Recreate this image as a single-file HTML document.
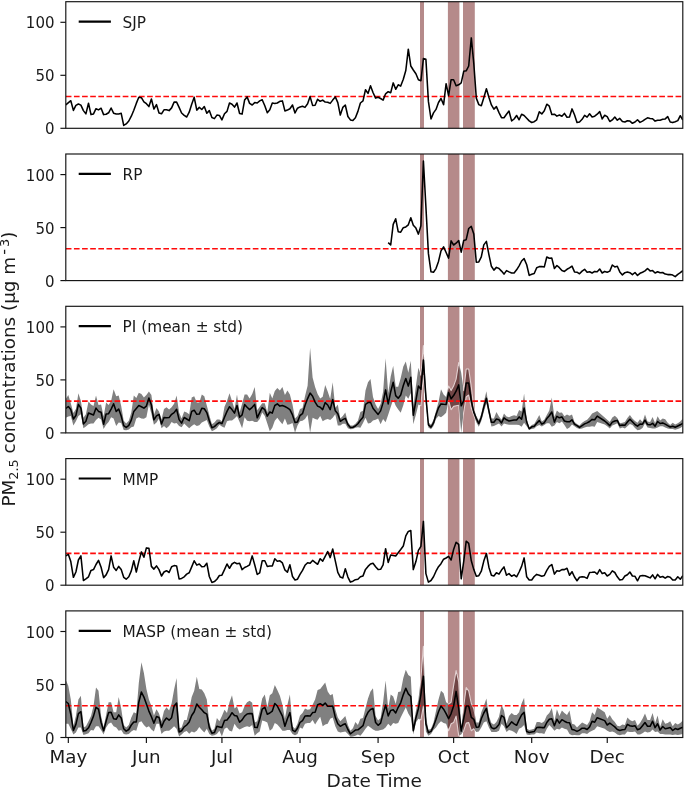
<!DOCTYPE html>
<html><head><meta charset="utf-8"><title>PM2.5 concentrations</title>
<style>
html,body{margin:0;padding:0;background:#fff;}
body{width:685px;height:788px;overflow:hidden;}
svg{display:block;}
text{font-family:"DejaVu Sans","Liberation Sans",sans-serif;fill:#1a1a1a;}
.yt{font-size:15px;text-anchor:end;}
.xt{font-size:18.3px;text-anchor:middle;}
.lg{font-size:15.35px;}
.al{font-size:18.5px;text-anchor:middle;}
</style></head><body>
<svg width="685" height="788" viewBox="0 0 685 788">
<rect width="685" height="788" fill="#fff"/>
<g id="p0">
<clipPath id="c0"><rect x="65.8" y="1.7" width="617.0" height="126.60000000000001"/></clipPath>
<clipPath id="bc0"><rect x="420.0" y="1.7" width="4.0" height="126.60000000000001"/><rect x="447.9" y="1.7" width="11.5" height="126.60000000000001"/><rect x="463.0" y="1.7" width="11.8" height="126.60000000000001"/></clipPath>
<g clip-path="url(#c0)">
<rect x="420.0" y="1.7" width="4.0" height="126.60000000000001" fill="rgb(94,1,1)" fill-opacity="0.46"/>
<rect x="447.9" y="1.7" width="11.5" height="126.60000000000001" fill="rgb(94,1,1)" fill-opacity="0.46"/>
<rect x="463.0" y="1.7" width="11.8" height="126.60000000000001" fill="rgb(94,1,1)" fill-opacity="0.46"/>
<line x1="65.8" x2="682.8" y1="96.50" y2="96.50" stroke="#ff0a0a" stroke-width="1.6" stroke-dasharray="5.67 2.46"/>
<polyline points="65.8,104.9 70.8,100.7 73.4,110.4 75.9,105.4 78.4,104.0 80.9,105.1 83.4,110.6 85.9,113.9 88.5,103.2 91.0,114.6 93.5,113.9 96.0,108.7 98.5,109.9 101.1,108.2 103.6,114.6 106.1,114.2 108.6,112.8 111.1,108.0 113.6,113.2 116.2,113.9 118.7,113.9 121.2,113.3 123.7,125.4 126.2,123.9 128.8,121.0 131.3,116.2 133.8,110.3 136.3,103.4 138.8,97.3 141.4,97.7 143.9,101.8 146.4,103.7 148.9,106.6 151.4,99.0 153.9,109.0 156.5,104.6 159.0,113.0 161.5,113.8 164.0,109.8 166.5,109.8 169.1,110.6 171.6,107.9 174.1,102.1 176.6,102.1 179.1,107.4 181.6,113.0 184.2,115.4 186.7,117.0 189.2,112.2 191.7,104.2 194.2,97.3 196.8,110.1 199.3,107.4 201.8,109.5 204.3,106.6 206.8,113.3 209.3,110.6 211.9,117.5 214.4,118.6 216.9,115.1 219.4,115.4 221.9,119.9 224.5,113.8 227.0,111.4 229.5,103.0 232.0,104.2 234.5,107.1 237.0,103.0 239.6,113.5 242.1,114.1 244.6,100.1 247.1,96.9 249.6,103.4 252.2,105.0 254.7,102.6 257.2,103.0 259.7,100.9 262.2,99.7 264.8,105.8 267.3,112.7 269.8,109.8 272.3,103.0 274.8,103.4 277.3,103.0 279.9,101.3 282.4,100.9 284.9,110.9 287.4,110.1 289.9,108.7 292.5,105.0 295.0,113.0 297.5,108.2 300.0,106.9 302.5,106.2 305.0,107.4 307.6,103.7 310.1,96.6 312.6,105.4 315.1,105.3 317.6,99.3 320.2,101.3 322.7,100.1 325.2,102.1 327.7,102.2 330.2,103.4 332.7,100.1 335.3,96.9 337.8,102.6 340.3,115.1 342.8,107.4 345.3,105.0 347.9,116.5 350.4,119.9 352.9,120.5 355.4,117.8 357.9,111.4 360.4,103.0 363.0,100.9 365.5,89.7 368.0,93.4 370.5,85.8 373.0,92.5 375.6,98.1 378.1,97.3 380.6,98.5 383.1,100.1 385.6,93.8 388.2,91.7 390.7,92.8 393.2,82.9 395.7,89.3 398.2,84.8 400.7,86.1 403.3,79.2 405.8,70.5 408.3,49.2 410.8,66.0 413.3,70.0 415.9,73.7 418.4,79.7 420.9,80.8 423.4,58.5 425.9,59.3 428.4,101.4 431.0,119.0 433.5,112.9 436.0,109.4 438.5,102.5 441.0,98.5 443.6,104.6 446.1,83.7 448.6,95.7 451.1,79.7 453.6,79.7 456.1,85.8 458.7,84.8 461.2,82.9 463.7,71.3 466.2,70.8 468.7,66.0 471.3,37.9 473.8,63.6 476.3,98.1 478.8,104.6 481.3,105.7 483.8,97.7 486.4,88.8 488.9,97.3 491.4,104.9 493.9,109.1 496.4,106.6 499.0,112.6 501.5,117.7 504.0,117.7 506.5,114.2 509.0,111.0 511.6,120.9 514.1,119.0 516.6,115.5 519.1,119.8 521.6,114.2 524.1,115.5 526.7,118.2 529.2,120.9 531.7,122.5 534.2,121.7 536.7,119.8 539.3,111.8 541.8,113.9 544.3,110.7 546.8,104.2 549.3,106.2 551.8,114.5 554.4,114.2 556.9,116.1 559.4,115.0 561.9,116.2 564.4,113.4 567.0,117.3 569.5,117.1 572.0,108.9 574.5,114.7 577.0,122.4 579.5,122.0 582.1,119.3 584.6,115.3 587.1,117.1 589.6,113.8 592.1,116.9 594.7,116.2 597.2,114.2 599.7,111.6 602.2,118.9 604.7,115.3 607.2,116.6 609.8,121.5 612.3,119.9 614.8,117.1 617.3,120.2 619.8,118.4 622.4,121.5 624.9,122.0 627.4,120.8 629.9,121.1 632.4,123.3 635.0,122.0 637.5,119.7 640.0,122.4 642.5,121.1 645.0,119.3 647.5,117.8 650.1,118.4 652.6,118.8 655.1,121.1 657.6,120.2 660.1,120.2 662.7,119.3 665.2,118.9 667.7,116.6 670.2,122.0 672.7,122.6 675.2,121.7 677.8,120.6 680.3,115.7 682.8,120.2" fill="none" stroke="#000" stroke-width="1.55" stroke-linejoin="round" stroke-linecap="butt"/>
</g>
<rect x="65.8" y="1.7" width="617.0" height="126.60000000000001" fill="none" stroke="#111" stroke-width="1.15"/>
<line x1="60.4" x2="65.8" y1="128.30" y2="128.30" stroke="#111" stroke-width="1.15"/>
<text class="yt" x="54.5" y="134.40">0</text>
<line x1="60.4" x2="65.8" y1="75.30" y2="75.30" stroke="#111" stroke-width="1.15"/>
<text class="yt" x="54.5" y="81.40">50</text>
<line x1="60.4" x2="65.8" y1="22.30" y2="22.30" stroke="#111" stroke-width="1.15"/>
<text class="yt" x="54.5" y="28.40">100</text>
<line x1="78.7" x2="110.9" y1="21.60" y2="21.60" stroke="#000" stroke-width="2.2"/>
<text class="lg" x="122.6" y="27.80">SJP</text>
</g>
<g id="p1">
<clipPath id="c1"><rect x="65.8" y="154.0" width="617.0" height="126.60000000000002"/></clipPath>
<clipPath id="bc1"><rect x="420.0" y="154.0" width="4.0" height="126.60000000000002"/><rect x="447.9" y="154.0" width="11.5" height="126.60000000000002"/><rect x="463.0" y="154.0" width="11.8" height="126.60000000000002"/></clipPath>
<g clip-path="url(#c1)">
<rect x="420.0" y="154.0" width="4.0" height="126.60000000000002" fill="rgb(94,1,1)" fill-opacity="0.46"/>
<rect x="447.9" y="154.0" width="11.5" height="126.60000000000002" fill="rgb(94,1,1)" fill-opacity="0.46"/>
<rect x="463.0" y="154.0" width="11.8" height="126.60000000000002" fill="rgb(94,1,1)" fill-opacity="0.46"/>
<line x1="65.8" x2="682.8" y1="248.80" y2="248.80" stroke="#ff0a0a" stroke-width="1.6" stroke-dasharray="5.67 2.46"/>
<polyline points="388.2,242.6 390.7,245.0 393.2,224.4 395.7,218.8 398.2,231.7 400.7,232.2 403.3,227.7 405.8,226.9 408.3,224.8 410.8,217.7 413.3,225.2 415.9,228.1 418.4,234.1 420.9,225.7 423.4,161.0 425.9,206.8 428.4,253.4 431.0,271.8 433.5,272.3 436.0,268.6 438.5,261.4 441.0,250.9 443.6,246.9 446.1,252.5 448.6,258.2 451.1,240.8 453.6,245.0 456.1,243.2 458.7,240.5 461.2,252.2 463.7,240.5 466.2,239.7 468.7,228.5 471.3,226.4 473.8,234.1 476.3,262.2 478.8,261.9 481.3,256.8 483.8,244.9 486.4,241.4 488.9,254.6 491.4,266.3 493.9,270.1 496.4,267.4 499.0,268.5 501.5,271.1 504.0,274.1 506.5,270.6 509.0,271.9 511.6,273.0 514.1,273.0 516.6,269.8 519.1,265.8 521.6,261.0 524.1,258.6 526.7,264.7 529.2,275.4 531.7,274.3 534.2,273.5 536.7,267.7 539.3,266.6 541.8,266.6 544.3,266.9 546.8,257.0 549.3,258.2 551.8,258.1 554.4,268.5 556.9,265.5 559.4,267.7 561.9,270.6 564.4,271.4 567.0,269.3 569.5,267.9 572.0,266.1 574.5,271.9 577.0,272.2 579.5,273.8 582.1,271.1 584.6,269.3 587.1,272.2 589.6,271.7 592.1,273.0 594.7,271.4 597.2,271.7 599.7,269.0 602.2,273.0 604.7,271.4 607.2,272.2 609.8,271.1 612.3,265.0 614.8,266.9 617.3,266.3 619.8,271.9 622.4,274.9 624.9,272.7 627.4,272.1 629.9,272.7 632.4,274.6 635.0,272.5 637.5,275.4 640.0,273.3 642.5,272.2 645.0,270.9 647.5,268.5 650.1,270.9 652.6,270.6 655.1,273.0 657.6,271.7 660.1,272.7 662.7,272.5 665.2,274.1 667.7,274.6 670.2,274.6 672.7,275.1 675.2,276.6 677.8,274.3 680.3,272.7 682.8,270.6" fill="none" stroke="#000" stroke-width="1.55" stroke-linejoin="round" stroke-linecap="butt"/>
</g>
<rect x="65.8" y="154.0" width="617.0" height="126.60000000000002" fill="none" stroke="#111" stroke-width="1.15"/>
<line x1="60.4" x2="65.8" y1="280.60" y2="280.60" stroke="#111" stroke-width="1.15"/>
<text class="yt" x="54.5" y="286.70">0</text>
<line x1="60.4" x2="65.8" y1="227.60" y2="227.60" stroke="#111" stroke-width="1.15"/>
<text class="yt" x="54.5" y="233.70">50</text>
<line x1="60.4" x2="65.8" y1="174.60" y2="174.60" stroke="#111" stroke-width="1.15"/>
<text class="yt" x="54.5" y="180.70">100</text>
<line x1="78.7" x2="110.9" y1="173.90" y2="173.90" stroke="#000" stroke-width="2.2"/>
<text class="lg" x="122.6" y="180.10">RP</text>
</g>
<g id="p2">
<clipPath id="c2"><rect x="65.8" y="306.3" width="617.0" height="126.60000000000002"/></clipPath>
<clipPath id="bc2"><rect x="420.0" y="306.3" width="4.0" height="126.60000000000002"/><rect x="447.9" y="306.3" width="11.5" height="126.60000000000002"/><rect x="463.0" y="306.3" width="11.8" height="126.60000000000002"/></clipPath>
<g clip-path="url(#c2)">
<polygon points="65.8,399.1 68.3,395.0 70.8,403.2 73.4,413.1 75.9,409.1 78.4,393.3 80.9,400.9 83.4,417.8 85.9,414.3 88.5,401.5 91.0,404.4 93.5,406.1 96.0,395.6 98.5,405.0 101.1,404.4 103.6,416.6 106.1,402.6 108.6,405.0 111.1,400.9 113.6,389.2 116.2,396.2 118.7,395.6 121.2,406.1 123.7,420.7 126.2,423.6 128.8,420.7 131.3,412.6 133.8,395.6 136.3,398.0 138.8,392.7 141.4,393.9 143.9,397.4 146.4,395.0 148.9,391.5 151.4,395.0 153.9,414.9 156.5,407.9 159.0,411.4 161.5,419.6 164.0,409.1 166.5,407.3 169.1,409.6 171.6,407.3 174.1,403.8 176.6,395.6 179.1,412.6 181.6,418.4 184.2,411.4 186.7,412.6 189.2,414.3 191.7,397.4 194.2,396.2 196.8,402.6 199.3,402.6 201.8,394.5 204.3,396.2 206.8,405.5 209.3,414.9 211.9,424.2 214.4,422.5 216.9,419.6 219.4,419.6 221.9,421.3 224.5,406.7 227.0,400.9 229.5,393.3 232.0,400.9 234.5,409.1 237.0,394.5 239.6,412.6 242.1,403.8 244.6,394.5 247.1,394.5 249.6,398.5 252.2,393.9 254.7,386.9 257.2,410.2 259.7,406.7 262.2,403.2 264.8,403.2 267.3,412.6 269.8,392.7 272.3,398.5 274.8,390.9 277.3,388.0 279.9,390.4 282.4,386.9 284.9,395.0 287.4,390.6 289.9,394.5 292.5,404.4 295.0,418.4 297.5,416.1 300.0,409.1 302.5,407.9 305.0,396.2 307.6,385.7 310.1,347.8 312.6,377.5 315.1,386.9 317.6,393.9 320.2,398.6 322.7,396.8 325.2,385.1 327.7,391.5 330.2,399.1 332.7,382.2 335.3,407.9 337.8,404.4 340.3,418.4 342.8,416.1 345.3,412.6 347.9,421.9 350.4,425.4 352.9,425.4 355.4,423.7 357.9,420.7 360.4,412.0 363.0,410.8 365.5,390.4 368.0,382.3 370.5,379.1 373.0,396.9 375.6,404.5 378.1,409.0 380.6,403.9 383.1,391.8 385.6,358.2 388.2,393.1 390.7,376.6 393.2,365.8 395.7,386.8 398.2,386.8 400.7,377.9 403.3,366.5 405.8,361.4 408.3,372.8 410.8,360.7 413.3,407.1 415.9,386.1 418.4,367.7 420.9,375.3 423.4,345.5 425.9,389.3 428.4,422.3 431.0,424.8 433.5,419.8 436.0,410.9 438.5,402.0 441.0,389.3 443.6,394.4 446.1,396.9 448.6,386.1 451.1,390.6 453.6,386.1 456.1,379.1 458.7,362.6 461.2,372.8 463.7,390.6 466.2,369.0 468.7,369.0 471.3,386.8 473.8,408.3 476.3,415.9 478.8,420.4 481.3,414.0 483.8,402.0 486.4,391.2 488.9,407.1 491.4,418.5 493.9,418.5 496.4,412.1 499.0,416.6 501.5,419.8 504.0,413.4 506.5,416.6 509.0,417.2 511.6,415.9 514.1,415.3 516.6,415.9 519.1,409.9 521.6,411.6 524.1,393.5 526.7,419.2 529.2,427.4 531.7,425.1 534.2,423.9 536.7,419.8 539.3,415.1 541.8,421.5 544.3,419.8 546.8,415.1 549.3,410.5 551.8,397.6 554.4,416.9 556.9,410.5 559.4,412.8 561.9,412.4 564.4,416.3 567.0,414.5 569.5,415.7 572.0,414.5 574.5,422.1 577.0,423.9 579.5,425.6 582.1,422.7 584.6,421.0 587.1,419.8 589.6,416.9 592.1,413.4 594.7,412.2 597.2,411.0 604.7,417.5 607.2,419.8 609.8,422.1 612.3,417.5 614.8,415.7 617.3,418.0 619.8,423.3 622.4,422.7 624.9,422.1 627.4,418.0 629.9,415.1 632.4,418.6 635.0,421.0 637.5,422.7 640.0,419.2 642.5,422.1 645.0,414.5 647.5,421.5 650.1,422.1 652.6,416.9 655.1,423.3 657.6,416.3 660.1,420.4 662.7,418.6 665.2,419.2 667.7,422.7 670.2,425.1 672.7,422.7 675.2,424.5 677.8,423.3 680.3,421.5 682.8,418.6 682.8,426.2 680.3,428.0 677.8,429.1 675.2,429.7 672.7,429.1 670.2,429.1 667.7,428.6 665.2,427.4 662.7,426.2 660.1,426.2 657.6,427.4 655.1,428.6 652.6,428.6 650.1,428.0 647.5,427.4 645.0,423.3 642.5,428.0 640.0,429.7 637.5,430.3 635.0,428.0 632.4,425.1 629.9,423.9 627.4,426.2 624.9,428.6 622.4,427.4 619.8,428.6 617.3,423.3 614.8,424.5 612.3,425.6 609.8,428.6 607.2,426.2 604.7,424.5 597.2,422.1 594.7,426.8 592.1,426.2 589.6,426.8 587.1,426.8 584.6,427.4 582.1,428.6 579.5,429.1 577.0,428.0 574.5,426.2 572.0,424.5 569.5,427.4 567.0,429.1 564.4,425.1 561.9,421.5 559.4,423.3 556.9,422.1 554.4,425.6 551.8,426.8 549.3,423.3 546.8,423.3 544.3,425.1 541.8,426.5 539.3,425.1 536.7,426.2 534.2,428.6 531.7,429.1 529.2,429.7 526.7,426.2 524.1,422.7 521.6,426.8 519.1,425.1 516.6,424.8 514.1,424.8 511.6,424.8 509.0,424.8 506.5,424.2 504.0,423.6 501.5,426.4 499.0,423.6 496.4,424.8 493.9,426.1 491.4,426.4 488.9,414.7 486.4,403.3 483.8,412.1 481.3,421.0 478.8,426.7 476.3,422.3 473.8,415.3 471.3,408.3 468.7,395.0 466.2,396.9 463.7,412.1 461.2,432.8 458.7,405.2 456.1,405.8 453.6,406.4 451.1,409.6 448.6,400.7 446.1,412.8 443.6,415.3 441.0,417.2 438.5,415.9 436.0,419.1 433.5,426.1 431.0,429.3 428.4,427.4 425.9,404.5 423.4,375.3 420.9,405.8 418.4,404.5 415.9,414.7 413.3,424.2 410.8,393.1 408.3,398.8 405.8,395.6 403.3,405.2 400.7,412.8 398.2,409.6 395.7,405.8 393.2,399.5 390.7,407.1 388.2,414.7 385.6,422.3 383.1,419.1 380.6,424.2 378.1,418.5 375.6,419.8 373.0,420.4 370.5,422.9 368.0,423.6 365.5,417.8 363.0,423.1 360.4,427.8 357.9,427.2 355.4,427.8 352.9,428.9 350.4,429.2 347.9,428.3 345.3,423.7 342.8,423.7 340.3,425.4 337.8,425.4 335.3,414.3 332.7,417.8 330.2,419.9 327.7,419.0 325.2,419.8 322.7,421.3 320.2,416.1 317.6,419.8 315.1,419.0 312.6,417.8 310.1,432.7 307.6,414.9 305.0,419.0 302.5,420.7 300.0,421.3 297.5,425.4 295.0,432.7 292.5,423.1 289.9,424.2 287.4,424.8 284.9,418.4 282.4,424.2 279.9,421.3 277.3,417.8 274.8,420.7 272.3,427.7 269.8,431.2 267.3,423.6 264.8,416.1 262.2,412.6 259.7,419.0 257.2,421.9 254.7,421.9 252.2,420.7 249.6,421.3 247.1,420.7 244.6,417.2 242.1,428.3 239.6,421.9 237.0,416.1 234.5,418.4 232.0,420.5 229.5,420.5 227.0,421.3 224.5,427.7 221.9,426.6 219.4,424.8 216.9,428.3 214.4,430.1 211.9,431.2 209.3,426.6 206.8,420.1 204.3,421.3 201.8,422.5 199.3,425.2 196.8,426.0 194.2,424.2 191.7,426.0 189.2,428.3 186.7,426.0 184.2,423.6 181.6,427.2 179.1,426.0 176.6,423.1 174.1,423.6 171.6,421.9 169.1,426.0 166.5,428.3 164.0,426.0 161.5,428.3 159.0,418.4 156.5,422.5 153.9,424.8 151.4,413.7 148.9,404.4 146.4,417.2 143.9,418.7 141.4,418.4 138.8,417.2 136.3,418.4 133.8,426.6 131.3,427.2 128.8,429.5 126.2,430.3 123.7,430.1 121.2,423.1 118.7,422.5 116.2,426.0 113.6,418.4 111.1,417.2 108.6,421.9 106.1,424.8 103.6,428.9 101.1,419.6 98.5,417.8 96.0,420.1 93.5,423.6 91.0,423.6 88.5,424.2 85.9,426.6 83.4,428.3 80.9,414.3 78.4,416.1 75.9,421.3 73.4,425.4 70.8,416.1 68.3,416.6 65.8,417.8" fill="#808080"/>
<rect x="420.0" y="306.3" width="4.0" height="126.60000000000002" fill="rgb(94,1,1)" fill-opacity="0.46"/>
<rect x="447.9" y="306.3" width="11.5" height="126.60000000000002" fill="rgb(94,1,1)" fill-opacity="0.46"/>
<rect x="463.0" y="306.3" width="11.8" height="126.60000000000002" fill="rgb(94,1,1)" fill-opacity="0.46"/>
<g clip-path="url(#bc2)"><polygon points="65.8,399.1 68.3,395.0 70.8,403.2 73.4,413.1 75.9,409.1 78.4,393.3 80.9,400.9 83.4,417.8 85.9,414.3 88.5,401.5 91.0,404.4 93.5,406.1 96.0,395.6 98.5,405.0 101.1,404.4 103.6,416.6 106.1,402.6 108.6,405.0 111.1,400.9 113.6,389.2 116.2,396.2 118.7,395.6 121.2,406.1 123.7,420.7 126.2,423.6 128.8,420.7 131.3,412.6 133.8,395.6 136.3,398.0 138.8,392.7 141.4,393.9 143.9,397.4 146.4,395.0 148.9,391.5 151.4,395.0 153.9,414.9 156.5,407.9 159.0,411.4 161.5,419.6 164.0,409.1 166.5,407.3 169.1,409.6 171.6,407.3 174.1,403.8 176.6,395.6 179.1,412.6 181.6,418.4 184.2,411.4 186.7,412.6 189.2,414.3 191.7,397.4 194.2,396.2 196.8,402.6 199.3,402.6 201.8,394.5 204.3,396.2 206.8,405.5 209.3,414.9 211.9,424.2 214.4,422.5 216.9,419.6 219.4,419.6 221.9,421.3 224.5,406.7 227.0,400.9 229.5,393.3 232.0,400.9 234.5,409.1 237.0,394.5 239.6,412.6 242.1,403.8 244.6,394.5 247.1,394.5 249.6,398.5 252.2,393.9 254.7,386.9 257.2,410.2 259.7,406.7 262.2,403.2 264.8,403.2 267.3,412.6 269.8,392.7 272.3,398.5 274.8,390.9 277.3,388.0 279.9,390.4 282.4,386.9 284.9,395.0 287.4,390.6 289.9,394.5 292.5,404.4 295.0,418.4 297.5,416.1 300.0,409.1 302.5,407.9 305.0,396.2 307.6,385.7 310.1,347.8 312.6,377.5 315.1,386.9 317.6,393.9 320.2,398.6 322.7,396.8 325.2,385.1 327.7,391.5 330.2,399.1 332.7,382.2 335.3,407.9 337.8,404.4 340.3,418.4 342.8,416.1 345.3,412.6 347.9,421.9 350.4,425.4 352.9,425.4 355.4,423.7 357.9,420.7 360.4,412.0 363.0,410.8 365.5,390.4 368.0,382.3 370.5,379.1 373.0,396.9 375.6,404.5 378.1,409.0 380.6,403.9 383.1,391.8 385.6,358.2 388.2,393.1 390.7,376.6 393.2,365.8 395.7,386.8 398.2,386.8 400.7,377.9 403.3,366.5 405.8,361.4 408.3,372.8 410.8,360.7 413.3,407.1 415.9,386.1 418.4,367.7 420.9,375.3 423.4,345.5 425.9,389.3 428.4,422.3 431.0,424.8 433.5,419.8 436.0,410.9 438.5,402.0 441.0,389.3 443.6,394.4 446.1,396.9 448.6,386.1 451.1,390.6 453.6,386.1 456.1,379.1 458.7,362.6 461.2,372.8 463.7,390.6 466.2,369.0 468.7,369.0 471.3,386.8 473.8,408.3 476.3,415.9 478.8,420.4 481.3,414.0 483.8,402.0 486.4,391.2 488.9,407.1 491.4,418.5 493.9,418.5 496.4,412.1 499.0,416.6 501.5,419.8 504.0,413.4 506.5,416.6 509.0,417.2 511.6,415.9 514.1,415.3 516.6,415.9 519.1,409.9 521.6,411.6 524.1,393.5 526.7,419.2 529.2,427.4 531.7,425.1 534.2,423.9 536.7,419.8 539.3,415.1 541.8,421.5 544.3,419.8 546.8,415.1 549.3,410.5 551.8,397.6 554.4,416.9 556.9,410.5 559.4,412.8 561.9,412.4 564.4,416.3 567.0,414.5 569.5,415.7 572.0,414.5 574.5,422.1 577.0,423.9 579.5,425.6 582.1,422.7 584.6,421.0 587.1,419.8 589.6,416.9 592.1,413.4 594.7,412.2 597.2,411.0 604.7,417.5 607.2,419.8 609.8,422.1 612.3,417.5 614.8,415.7 617.3,418.0 619.8,423.3 622.4,422.7 624.9,422.1 627.4,418.0 629.9,415.1 632.4,418.6 635.0,421.0 637.5,422.7 640.0,419.2 642.5,422.1 645.0,414.5 647.5,421.5 650.1,422.1 652.6,416.9 655.1,423.3 657.6,416.3 660.1,420.4 662.7,418.6 665.2,419.2 667.7,422.7 670.2,425.1 672.7,422.7 675.2,424.5 677.8,423.3 680.3,421.5 682.8,418.6 682.8,426.2 680.3,428.0 677.8,429.1 675.2,429.7 672.7,429.1 670.2,429.1 667.7,428.6 665.2,427.4 662.7,426.2 660.1,426.2 657.6,427.4 655.1,428.6 652.6,428.6 650.1,428.0 647.5,427.4 645.0,423.3 642.5,428.0 640.0,429.7 637.5,430.3 635.0,428.0 632.4,425.1 629.9,423.9 627.4,426.2 624.9,428.6 622.4,427.4 619.8,428.6 617.3,423.3 614.8,424.5 612.3,425.6 609.8,428.6 607.2,426.2 604.7,424.5 597.2,422.1 594.7,426.8 592.1,426.2 589.6,426.8 587.1,426.8 584.6,427.4 582.1,428.6 579.5,429.1 577.0,428.0 574.5,426.2 572.0,424.5 569.5,427.4 567.0,429.1 564.4,425.1 561.9,421.5 559.4,423.3 556.9,422.1 554.4,425.6 551.8,426.8 549.3,423.3 546.8,423.3 544.3,425.1 541.8,426.5 539.3,425.1 536.7,426.2 534.2,428.6 531.7,429.1 529.2,429.7 526.7,426.2 524.1,422.7 521.6,426.8 519.1,425.1 516.6,424.8 514.1,424.8 511.6,424.8 509.0,424.8 506.5,424.2 504.0,423.6 501.5,426.4 499.0,423.6 496.4,424.8 493.9,426.1 491.4,426.4 488.9,414.7 486.4,403.3 483.8,412.1 481.3,421.0 478.8,426.7 476.3,422.3 473.8,415.3 471.3,408.3 468.7,395.0 466.2,396.9 463.7,412.1 461.2,432.8 458.7,405.2 456.1,405.8 453.6,406.4 451.1,409.6 448.6,400.7 446.1,412.8 443.6,415.3 441.0,417.2 438.5,415.9 436.0,419.1 433.5,426.1 431.0,429.3 428.4,427.4 425.9,404.5 423.4,375.3 420.9,405.8 418.4,404.5 415.9,414.7 413.3,424.2 410.8,393.1 408.3,398.8 405.8,395.6 403.3,405.2 400.7,412.8 398.2,409.6 395.7,405.8 393.2,399.5 390.7,407.1 388.2,414.7 385.6,422.3 383.1,419.1 380.6,424.2 378.1,418.5 375.6,419.8 373.0,420.4 370.5,422.9 368.0,423.6 365.5,417.8 363.0,423.1 360.4,427.8 357.9,427.2 355.4,427.8 352.9,428.9 350.4,429.2 347.9,428.3 345.3,423.7 342.8,423.7 340.3,425.4 337.8,425.4 335.3,414.3 332.7,417.8 330.2,419.9 327.7,419.0 325.2,419.8 322.7,421.3 320.2,416.1 317.6,419.8 315.1,419.0 312.6,417.8 310.1,432.7 307.6,414.9 305.0,419.0 302.5,420.7 300.0,421.3 297.5,425.4 295.0,432.7 292.5,423.1 289.9,424.2 287.4,424.8 284.9,418.4 282.4,424.2 279.9,421.3 277.3,417.8 274.8,420.7 272.3,427.7 269.8,431.2 267.3,423.6 264.8,416.1 262.2,412.6 259.7,419.0 257.2,421.9 254.7,421.9 252.2,420.7 249.6,421.3 247.1,420.7 244.6,417.2 242.1,428.3 239.6,421.9 237.0,416.1 234.5,418.4 232.0,420.5 229.5,420.5 227.0,421.3 224.5,427.7 221.9,426.6 219.4,424.8 216.9,428.3 214.4,430.1 211.9,431.2 209.3,426.6 206.8,420.1 204.3,421.3 201.8,422.5 199.3,425.2 196.8,426.0 194.2,424.2 191.7,426.0 189.2,428.3 186.7,426.0 184.2,423.6 181.6,427.2 179.1,426.0 176.6,423.1 174.1,423.6 171.6,421.9 169.1,426.0 166.5,428.3 164.0,426.0 161.5,428.3 159.0,418.4 156.5,422.5 153.9,424.8 151.4,413.7 148.9,404.4 146.4,417.2 143.9,418.7 141.4,418.4 138.8,417.2 136.3,418.4 133.8,426.6 131.3,427.2 128.8,429.5 126.2,430.3 123.7,430.1 121.2,423.1 118.7,422.5 116.2,426.0 113.6,418.4 111.1,417.2 108.6,421.9 106.1,424.8 103.6,428.9 101.1,419.6 98.5,417.8 96.0,420.1 93.5,423.6 91.0,423.6 88.5,424.2 85.9,426.6 83.4,428.3 80.9,414.3 78.4,416.1 75.9,421.3 73.4,425.4 70.8,416.1 68.3,416.6 65.8,417.8" fill="none" stroke="#eadcdc" stroke-width="1.1" stroke-opacity="0.9" stroke-linejoin="round"/></g>
<line x1="65.8" x2="682.8" y1="401.10" y2="401.10" stroke="#ff0a0a" stroke-width="1.6" stroke-dasharray="5.67 2.46"/>
<polyline points="65.8,408.5 68.3,406.5 70.8,409.6 73.4,419.0 75.9,415.5 78.4,404.4 80.9,408.1 83.4,424.0 85.9,421.3 88.5,413.1 91.0,414.0 93.5,414.9 96.0,408.1 98.5,411.4 101.1,412.3 103.6,424.2 106.1,414.0 108.6,413.7 111.1,409.1 113.6,403.8 116.2,411.4 118.7,409.1 121.2,416.1 123.7,425.6 126.2,427.5 128.8,425.4 131.3,420.1 133.8,411.4 136.3,408.5 138.8,405.5 141.4,406.7 143.9,408.1 146.4,406.1 148.9,398.0 151.4,405.0 153.9,419.8 156.5,415.8 159.0,414.3 161.5,424.0 164.0,417.6 166.5,417.8 169.1,417.6 171.6,414.3 174.1,412.6 176.6,409.3 179.1,419.6 181.6,423.1 184.2,417.5 186.7,419.0 189.2,420.7 191.7,411.4 194.2,410.2 196.8,414.3 199.3,414.1 201.8,408.2 204.3,408.8 206.8,412.6 209.3,420.7 211.9,427.7 214.4,426.6 216.9,424.2 219.4,422.5 221.9,423.6 224.5,417.2 227.0,411.4 229.5,406.7 232.0,409.6 234.5,413.1 237.0,405.5 239.6,417.2 242.1,414.9 244.6,404.6 247.1,407.3 249.6,409.6 252.2,407.3 254.7,404.4 257.2,417.8 259.7,412.6 262.2,407.6 264.8,409.6 267.3,416.1 269.8,412.0 272.3,413.1 274.8,405.5 277.3,403.8 279.9,406.1 282.4,405.5 284.9,406.5 287.4,407.9 289.9,409.6 292.5,414.9 295.0,422.5 297.5,421.9 300.0,415.5 302.5,413.7 305.0,405.6 307.6,398.6 310.1,393.1 312.6,396.2 315.1,402.1 317.6,406.1 320.2,407.3 322.7,409.6 325.2,402.6 327.7,405.0 330.2,409.6 332.7,399.5 335.3,410.8 337.8,413.7 340.3,421.3 342.8,419.6 345.3,418.4 347.9,424.5 350.4,427.4 352.9,427.2 355.4,426.0 357.9,423.7 360.4,420.2 363.0,417.2 365.5,404.4 368.0,402.6 370.5,402.2 373.0,408.3 375.6,411.5 378.1,414.4 380.6,410.9 383.1,402.6 385.6,389.9 388.2,403.9 390.7,391.8 393.2,382.3 395.7,395.6 398.2,398.2 400.7,395.0 403.3,385.5 405.8,378.5 408.3,386.1 410.8,377.2 413.3,415.3 415.9,400.7 418.4,386.1 420.9,389.3 423.4,360.1 425.9,396.9 428.4,424.8 431.0,427.1 433.5,422.9 436.0,414.7 438.5,407.7 441.0,403.9 443.6,404.3 446.1,404.5 448.6,392.5 451.1,398.8 453.6,395.6 456.1,391.2 458.7,384.9 461.2,405.8 463.7,400.7 466.2,383.0 468.7,383.0 471.3,400.7 473.8,412.1 476.3,418.5 478.8,423.6 481.3,417.2 483.8,407.1 486.4,398.2 488.9,410.9 491.4,422.3 493.9,422.3 496.4,419.1 499.0,419.8 501.5,422.9 504.0,417.9 506.5,419.8 509.0,421.0 511.6,420.4 514.1,420.0 516.6,420.0 519.1,416.9 521.6,419.2 524.1,408.1 526.7,422.1 529.2,428.8 531.7,426.8 534.2,426.2 536.7,423.3 539.3,420.6 541.8,424.1 544.3,422.7 546.8,418.6 549.3,415.7 551.8,412.0 554.4,422.1 556.9,416.3 559.4,417.8 561.9,416.9 564.4,421.0 567.0,421.8 569.5,421.8 572.0,419.8 574.5,424.1 577.0,425.6 579.5,427.4 582.1,425.6 584.6,423.9 587.1,422.9 589.6,421.5 592.1,419.4 594.7,419.8 597.2,416.1 604.7,421.0 607.2,423.1 609.8,425.6 612.3,422.1 614.8,421.0 617.3,420.4 619.8,425.6 622.4,425.1 624.9,425.3 627.4,422.1 629.9,419.2 632.4,421.8 635.0,424.5 637.5,426.2 640.0,424.1 642.5,424.2 645.0,420.1 647.5,424.5 650.1,424.8 652.6,423.3 655.1,426.2 657.6,421.5 660.1,423.5 662.7,422.9 665.2,424.1 667.7,425.6 670.2,427.0 672.7,426.2 675.2,427.2 677.8,426.0 680.3,424.8 682.8,423.3" fill="none" stroke="#000" stroke-width="1.55" stroke-linejoin="round" stroke-linecap="butt"/>
</g>
<rect x="65.8" y="306.3" width="617.0" height="126.60000000000002" fill="none" stroke="#111" stroke-width="1.15"/>
<line x1="60.4" x2="65.8" y1="432.90" y2="432.90" stroke="#111" stroke-width="1.15"/>
<text class="yt" x="54.5" y="439.00">0</text>
<line x1="60.4" x2="65.8" y1="379.90" y2="379.90" stroke="#111" stroke-width="1.15"/>
<text class="yt" x="54.5" y="386.00">50</text>
<line x1="60.4" x2="65.8" y1="326.90" y2="326.90" stroke="#111" stroke-width="1.15"/>
<text class="yt" x="54.5" y="333.00">100</text>
<line x1="78.7" x2="110.9" y1="326.20" y2="326.20" stroke="#000" stroke-width="2.2"/>
<text class="lg" x="122.6" y="332.40">PI (mean ± std)</text>
</g>
<g id="p3">
<clipPath id="c3"><rect x="65.8" y="458.6" width="617.0" height="126.60000000000002"/></clipPath>
<clipPath id="bc3"><rect x="420.0" y="458.6" width="4.0" height="126.60000000000002"/><rect x="447.9" y="458.6" width="11.5" height="126.60000000000002"/><rect x="463.0" y="458.6" width="11.8" height="126.60000000000002"/></clipPath>
<g clip-path="url(#c3)">
<rect x="420.0" y="458.6" width="4.0" height="126.60000000000002" fill="rgb(94,1,1)" fill-opacity="0.46"/>
<rect x="447.9" y="458.6" width="11.5" height="126.60000000000002" fill="rgb(94,1,1)" fill-opacity="0.46"/>
<rect x="463.0" y="458.6" width="11.8" height="126.60000000000002" fill="rgb(94,1,1)" fill-opacity="0.46"/>
<line x1="65.8" x2="682.8" y1="553.40" y2="553.40" stroke="#ff0a0a" stroke-width="1.6" stroke-dasharray="5.67 2.46"/>
<polyline points="65.8,555.9 68.3,554.3 70.8,561.6 73.4,577.3 75.9,572.0 78.4,560.0 80.9,555.9 83.4,580.5 85.9,578.9 88.5,576.8 91.0,570.4 93.5,569.6 96.0,564.5 98.5,560.4 101.1,567.2 103.6,577.6 106.1,574.9 108.6,569.6 111.1,555.9 113.6,567.2 116.2,570.4 118.7,566.4 121.2,569.6 123.7,577.3 126.2,579.2 128.8,576.8 131.3,570.9 133.8,560.8 136.3,572.0 138.8,561.6 141.4,551.9 143.9,557.2 146.4,547.9 148.9,548.2 151.4,566.4 153.9,569.1 156.5,565.9 159.0,569.6 161.5,576.0 164.0,572.0 166.5,570.7 169.1,572.5 171.6,566.7 174.1,565.6 176.6,565.9 179.1,578.9 181.6,578.4 184.2,576.8 186.7,574.1 189.2,572.8 191.7,566.9 194.2,560.8 196.8,565.1 199.3,564.0 201.8,566.7 204.3,566.4 206.8,563.2 209.3,576.5 211.9,582.4 214.4,581.6 216.9,579.2 219.4,575.5 221.9,575.2 224.5,569.6 227.0,564.0 229.5,568.3 232.0,564.0 234.5,562.4 237.0,563.7 239.6,563.2 242.1,569.6 244.6,567.5 247.1,566.4 249.6,564.8 252.2,555.9 254.7,564.8 257.2,574.4 259.7,572.8 262.2,560.8 264.8,560.8 267.3,566.5 269.8,566.1 272.3,565.9 274.8,558.7 277.3,561.2 279.9,560.8 282.4,562.9 284.9,569.9 287.4,572.3 289.9,564.8 292.5,576.5 295.0,580.0 297.5,579.2 300.0,574.4 302.5,570.4 305.0,565.3 307.6,562.7 310.1,563.2 312.6,560.4 315.1,562.4 317.6,564.3 320.2,558.7 322.7,561.1 325.2,556.4 327.7,551.5 330.2,557.6 332.7,549.0 335.3,560.8 337.8,572.3 340.3,577.1 342.8,577.9 345.3,568.8 347.9,577.1 350.4,582.1 352.9,581.2 355.4,579.7 357.9,579.2 360.4,576.8 363.0,575.9 365.5,569.4 368.0,566.4 370.5,564.0 373.0,563.2 375.6,566.7 378.1,569.6 380.6,569.3 383.1,564.8 385.6,548.7 388.2,562.4 390.7,555.1 393.2,555.5 395.7,555.9 398.2,552.7 400.7,549.5 403.3,546.0 405.8,535.9 408.3,531.4 410.8,530.6 413.3,569.6 415.9,561.6 418.4,550.3 420.9,546.3 423.4,521.4 425.9,573.6 428.4,582.1 431.0,580.5 433.5,576.8 436.0,571.2 438.5,566.7 441.0,563.7 443.6,559.2 446.1,558.0 448.6,556.4 451.1,560.0 453.6,549.5 456.1,542.3 458.7,544.4 461.2,578.8 463.7,561.6 466.2,541.2 468.7,543.3 471.3,560.8 473.8,569.6 476.3,576.3 478.8,575.7 481.3,571.2 483.8,561.1 486.4,553.5 488.9,567.2 491.4,575.2 493.9,576.0 496.4,572.8 499.0,574.1 501.5,570.1 504.0,566.9 506.5,575.2 509.0,573.6 511.6,576.3 514.1,574.9 516.6,576.8 519.1,572.0 521.6,566.4 524.1,557.9 526.7,576.8 529.2,580.0 531.7,580.0 534.2,576.5 536.7,574.4 539.3,575.2 541.8,576.3 544.3,575.5 546.8,570.4 549.3,566.4 551.8,564.5 554.4,574.1 556.9,570.7 559.4,571.2 561.9,569.6 564.4,569.6 567.0,568.3 569.5,575.2 572.0,571.7 574.5,577.0 577.0,580.8 579.5,577.3 582.1,576.8 584.6,577.1 587.1,578.4 589.6,572.5 592.1,572.3 594.7,572.0 597.2,574.1 599.7,569.6 602.2,573.6 604.7,572.8 607.2,576.0 609.8,574.4 612.3,570.9 614.8,572.5 617.3,576.8 619.8,580.0 622.4,579.6 624.9,576.0 627.4,574.7 629.9,572.0 632.4,576.0 635.0,576.3 637.5,580.8 640.0,576.0 642.5,575.5 645.0,575.7 647.5,576.8 650.1,577.9 652.6,574.9 655.1,578.8 657.6,574.4 660.1,577.3 662.7,576.5 665.2,578.1 667.7,576.5 670.2,577.3 672.7,580.0 675.2,580.0 677.8,576.8 680.3,579.2 682.8,575.7" fill="none" stroke="#000" stroke-width="1.55" stroke-linejoin="round" stroke-linecap="butt"/>
</g>
<rect x="65.8" y="458.6" width="617.0" height="126.60000000000002" fill="none" stroke="#111" stroke-width="1.15"/>
<line x1="60.4" x2="65.8" y1="585.20" y2="585.20" stroke="#111" stroke-width="1.15"/>
<text class="yt" x="54.5" y="591.30">0</text>
<line x1="60.4" x2="65.8" y1="532.20" y2="532.20" stroke="#111" stroke-width="1.15"/>
<text class="yt" x="54.5" y="538.30">50</text>
<line x1="60.4" x2="65.8" y1="479.20" y2="479.20" stroke="#111" stroke-width="1.15"/>
<text class="yt" x="54.5" y="485.30">100</text>
<line x1="78.7" x2="110.9" y1="478.50" y2="478.50" stroke="#000" stroke-width="2.2"/>
<text class="lg" x="122.6" y="484.70">MMP</text>
</g>
<g id="p4">
<clipPath id="c4"><rect x="65.8" y="610.9000000000001" width="617.0" height="126.59999999999991"/></clipPath>
<clipPath id="bc4"><rect x="420.0" y="610.9000000000001" width="4.0" height="126.59999999999991"/><rect x="447.9" y="610.9000000000001" width="11.5" height="126.59999999999991"/><rect x="463.0" y="610.9000000000001" width="11.8" height="126.59999999999991"/></clipPath>
<g clip-path="url(#c4)">
<polygon points="65.8,680.0 68.3,685.7 70.8,699.6 73.4,726.3 75.9,716.1 78.4,699.6 80.9,695.8 83.4,727.6 85.9,726.3 88.5,721.2 91.0,716.1 93.5,706.0 96.0,687.6 98.5,690.8 101.1,716.1 103.6,726.9 106.1,714.9 108.6,702.2 111.1,702.2 113.6,712.3 116.2,712.3 118.7,697.1 121.2,708.5 123.7,725.0 126.2,727.6 128.8,725.0 131.3,717.4 133.8,712.3 136.3,713.6 138.8,683.1 141.4,662.2 143.9,673.0 146.4,688.9 148.9,699.6 151.4,706.0 153.9,715.5 156.5,709.2 159.0,713.6 161.5,721.2 164.0,711.1 166.5,707.3 169.1,710.4 171.6,703.5 174.1,689.5 176.6,678.1 179.1,728.2 181.6,727.6 184.2,719.9 186.7,719.9 189.2,709.8 191.7,697.1 194.2,690.8 196.8,676.8 199.3,688.9 201.8,689.5 204.3,693.3 206.8,699.6 209.3,722.5 211.9,730.7 214.4,728.8 216.9,718.0 219.4,721.2 221.9,716.1 224.5,709.8 227.0,713.0 229.5,702.2 232.0,695.2 234.5,708.5 237.0,706.6 239.6,713.6 242.1,712.3 244.6,706.0 247.1,702.2 249.6,700.7 252.2,702.8 254.7,722.5 257.2,721.2 259.7,711.1 262.2,698.4 264.8,694.6 267.3,707.3 269.8,695.2 272.3,693.3 274.8,685.1 277.3,690.1 279.9,695.8 282.4,704.7 284.9,718.7 287.4,704.7 289.9,694.6 292.5,726.3 295.0,728.8 297.5,723.8 300.0,715.5 302.5,713.0 305.0,708.5 307.6,709.8 310.1,709.2 312.6,704.7 315.1,699.6 317.6,690.1 320.2,688.9 322.7,685.7 325.2,682.5 327.7,691.4 330.2,695.2 332.7,693.9 335.3,709.2 337.8,717.4 340.3,721.2 342.8,718.7 345.3,716.1 347.9,725.0 350.4,730.7 352.9,728.2 355.4,721.9 357.9,725.0 360.4,718.7 363.0,718.0 365.5,707.9 368.0,698.4 370.5,691.4 373.0,688.2 375.6,716.1 378.1,720.6 380.6,718.0 383.1,702.2 385.6,680.6 388.2,708.5 390.7,694.6 393.2,696.5 395.7,704.1 398.2,692.0 400.7,691.4 403.3,678.1 405.8,669.8 408.3,674.9 410.8,676.8 413.3,725.0 415.9,711.1 418.4,699.6 420.9,678.1 423.4,646.3 425.9,716.1 428.4,730.1 431.0,728.8 433.5,722.5 436.0,711.1 438.5,699.6 441.0,690.8 443.6,693.3 446.1,702.2 448.6,704.1 451.1,702.2 453.6,685.7 456.1,670.5 458.7,681.9 461.2,727.6 463.7,706.0 466.2,687.6 468.7,690.8 471.3,703.5 473.8,708.5 476.3,722.5 478.8,722.5 481.3,712.3 483.8,706.0 486.4,698.4 488.9,716.1 491.4,723.1 493.9,724.4 496.4,721.9 499.0,716.8 501.5,704.7 504.0,710.4 506.5,723.8 509.0,716.1 511.6,713.0 514.1,714.9 516.6,714.9 519.1,712.3 521.6,703.5 524.1,697.7 526.7,728.8 529.2,730.1 531.7,729.5 534.2,728.8 536.7,721.9 539.3,721.9 541.8,723.1 544.3,721.2 546.8,715.5 549.3,713.0 551.8,707.9 554.4,721.2 556.9,709.2 559.4,716.1 561.9,710.4 564.4,713.0 567.0,714.9 569.5,710.4 572.0,723.8 574.5,724.4 577.0,727.6 579.5,725.0 582.1,722.5 584.6,723.8 587.1,725.0 589.6,721.2 592.1,712.3 594.7,714.9 597.2,707.3 604.7,712.3 607.2,718.7 609.8,714.9 612.3,719.3 614.8,721.9 617.3,725.7 619.8,726.3 622.4,724.4 624.9,725.0 627.4,717.4 629.9,719.9 632.4,721.2 635.0,719.9 637.5,725.7 640.0,723.1 642.5,718.7 645.0,713.6 647.5,719.9 650.1,719.9 652.6,713.0 655.1,723.1 657.6,715.5 660.1,726.9 662.7,719.3 665.2,723.8 667.7,723.1 670.2,721.2 672.7,726.3 675.2,723.1 677.8,724.4 680.3,723.1 682.8,720.6 682.8,733.9 680.3,734.5 677.8,734.9 675.2,734.5 672.7,734.9 670.2,734.5 667.7,734.5 665.2,734.5 662.7,733.9 660.1,733.9 657.6,731.4 655.1,732.0 652.6,729.5 650.1,732.0 647.5,732.6 645.0,731.4 642.5,733.3 640.0,734.5 637.5,734.5 635.0,731.4 632.4,732.0 629.9,732.0 627.4,731.4 624.9,734.5 622.4,734.5 619.8,735.2 617.3,734.5 614.8,732.6 612.3,731.4 609.8,732.0 607.2,730.7 604.7,728.8 597.2,726.3 594.7,729.5 592.1,730.7 589.6,732.0 587.1,733.9 584.6,733.3 582.1,733.3 579.5,735.2 577.0,735.2 574.5,734.9 572.0,735.2 569.5,733.9 567.0,729.5 564.4,728.8 561.9,727.6 559.4,729.5 556.9,728.8 554.4,730.7 551.8,727.6 549.3,725.0 546.8,728.8 544.3,733.9 541.8,733.3 539.3,733.3 536.7,732.6 534.2,734.5 531.7,734.5 529.2,734.9 526.7,734.5 524.1,725.0 521.6,727.6 519.1,728.8 516.6,733.9 514.1,732.0 511.6,730.7 509.0,730.1 506.5,732.0 504.0,726.3 501.5,723.8 499.0,730.7 496.4,732.0 493.9,732.0 491.4,732.0 488.9,727.6 486.4,721.2 483.8,722.5 481.3,727.6 478.8,731.4 476.3,732.0 473.8,728.8 471.3,730.7 468.7,722.5 466.2,723.1 463.7,730.7 461.2,734.5 458.7,735.8 456.1,716.1 453.6,722.5 451.1,723.8 448.6,730.7 446.1,723.8 443.6,723.1 441.0,721.2 438.5,723.8 436.0,727.6 433.5,730.1 431.0,733.9 428.4,735.8 425.9,731.4 423.4,706.0 420.9,719.9 418.4,718.7 415.9,722.5 413.3,734.5 410.8,717.4 408.3,713.6 405.8,707.3 403.3,712.3 400.7,717.4 398.2,723.1 395.7,723.8 393.2,723.1 390.7,726.3 388.2,723.8 385.6,727.6 383.1,729.5 380.6,730.1 378.1,730.7 375.6,730.7 373.0,729.5 370.5,727.6 368.0,725.7 365.5,728.8 363.0,732.6 360.4,735.8 357.9,734.5 355.4,735.8 352.9,736.4 350.4,736.7 347.9,733.9 345.3,731.4 342.8,732.0 340.3,732.6 337.8,731.4 335.3,726.3 332.7,717.4 330.2,718.7 327.7,723.8 325.2,724.4 322.7,726.3 320.2,716.8 317.6,720.6 315.1,724.4 312.6,719.9 310.1,723.1 307.6,723.1 305.0,723.8 302.5,728.8 300.0,727.6 297.5,733.9 295.0,735.2 292.5,733.9 289.9,730.1 287.4,730.1 284.9,730.7 282.4,730.7 279.9,727.6 277.3,724.4 274.8,723.1 272.3,728.8 269.8,730.7 267.3,722.5 264.8,721.2 262.2,720.6 259.7,731.4 257.2,733.3 254.7,735.8 252.2,725.0 249.6,726.9 247.1,726.3 244.6,726.9 242.1,728.2 239.6,729.5 237.0,727.6 234.5,723.8 232.0,731.4 229.5,730.7 227.0,727.6 224.5,728.8 221.9,736.4 219.4,730.7 216.9,733.9 214.4,735.2 211.9,735.8 209.3,733.9 206.8,728.8 204.3,732.6 201.8,730.1 199.3,726.9 196.8,730.7 194.2,732.6 191.7,731.4 189.2,733.7 186.7,731.1 184.2,732.0 181.6,734.5 179.1,736.4 176.6,728.8 174.1,726.3 171.6,728.8 169.1,730.7 166.5,730.7 164.0,731.4 161.5,733.9 159.0,723.8 156.5,723.8 153.9,731.4 151.4,729.5 148.9,726.3 146.4,727.6 143.9,725.0 141.4,721.2 138.8,722.5 136.3,730.7 133.8,730.1 131.3,731.4 128.8,733.9 126.2,734.5 123.7,733.9 121.2,730.1 118.7,730.7 116.2,727.6 113.6,726.3 111.1,722.5 108.6,723.8 106.1,727.6 103.6,734.5 101.1,730.1 98.5,726.3 96.0,726.3 93.5,730.4 91.0,730.1 88.5,733.3 85.9,734.2 83.4,734.9 80.9,727.6 78.4,727.6 75.9,732.6 73.4,734.5 70.8,728.8 68.3,723.8 65.8,723.8" fill="#808080"/>
<rect x="420.0" y="610.9000000000001" width="4.0" height="126.59999999999991" fill="rgb(94,1,1)" fill-opacity="0.46"/>
<rect x="447.9" y="610.9000000000001" width="11.5" height="126.59999999999991" fill="rgb(94,1,1)" fill-opacity="0.46"/>
<rect x="463.0" y="610.9000000000001" width="11.8" height="126.59999999999991" fill="rgb(94,1,1)" fill-opacity="0.46"/>
<g clip-path="url(#bc4)"><polygon points="65.8,680.0 68.3,685.7 70.8,699.6 73.4,726.3 75.9,716.1 78.4,699.6 80.9,695.8 83.4,727.6 85.9,726.3 88.5,721.2 91.0,716.1 93.5,706.0 96.0,687.6 98.5,690.8 101.1,716.1 103.6,726.9 106.1,714.9 108.6,702.2 111.1,702.2 113.6,712.3 116.2,712.3 118.7,697.1 121.2,708.5 123.7,725.0 126.2,727.6 128.8,725.0 131.3,717.4 133.8,712.3 136.3,713.6 138.8,683.1 141.4,662.2 143.9,673.0 146.4,688.9 148.9,699.6 151.4,706.0 153.9,715.5 156.5,709.2 159.0,713.6 161.5,721.2 164.0,711.1 166.5,707.3 169.1,710.4 171.6,703.5 174.1,689.5 176.6,678.1 179.1,728.2 181.6,727.6 184.2,719.9 186.7,719.9 189.2,709.8 191.7,697.1 194.2,690.8 196.8,676.8 199.3,688.9 201.8,689.5 204.3,693.3 206.8,699.6 209.3,722.5 211.9,730.7 214.4,728.8 216.9,718.0 219.4,721.2 221.9,716.1 224.5,709.8 227.0,713.0 229.5,702.2 232.0,695.2 234.5,708.5 237.0,706.6 239.6,713.6 242.1,712.3 244.6,706.0 247.1,702.2 249.6,700.7 252.2,702.8 254.7,722.5 257.2,721.2 259.7,711.1 262.2,698.4 264.8,694.6 267.3,707.3 269.8,695.2 272.3,693.3 274.8,685.1 277.3,690.1 279.9,695.8 282.4,704.7 284.9,718.7 287.4,704.7 289.9,694.6 292.5,726.3 295.0,728.8 297.5,723.8 300.0,715.5 302.5,713.0 305.0,708.5 307.6,709.8 310.1,709.2 312.6,704.7 315.1,699.6 317.6,690.1 320.2,688.9 322.7,685.7 325.2,682.5 327.7,691.4 330.2,695.2 332.7,693.9 335.3,709.2 337.8,717.4 340.3,721.2 342.8,718.7 345.3,716.1 347.9,725.0 350.4,730.7 352.9,728.2 355.4,721.9 357.9,725.0 360.4,718.7 363.0,718.0 365.5,707.9 368.0,698.4 370.5,691.4 373.0,688.2 375.6,716.1 378.1,720.6 380.6,718.0 383.1,702.2 385.6,680.6 388.2,708.5 390.7,694.6 393.2,696.5 395.7,704.1 398.2,692.0 400.7,691.4 403.3,678.1 405.8,669.8 408.3,674.9 410.8,676.8 413.3,725.0 415.9,711.1 418.4,699.6 420.9,678.1 423.4,646.3 425.9,716.1 428.4,730.1 431.0,728.8 433.5,722.5 436.0,711.1 438.5,699.6 441.0,690.8 443.6,693.3 446.1,702.2 448.6,704.1 451.1,702.2 453.6,685.7 456.1,670.5 458.7,681.9 461.2,727.6 463.7,706.0 466.2,687.6 468.7,690.8 471.3,703.5 473.8,708.5 476.3,722.5 478.8,722.5 481.3,712.3 483.8,706.0 486.4,698.4 488.9,716.1 491.4,723.1 493.9,724.4 496.4,721.9 499.0,716.8 501.5,704.7 504.0,710.4 506.5,723.8 509.0,716.1 511.6,713.0 514.1,714.9 516.6,714.9 519.1,712.3 521.6,703.5 524.1,697.7 526.7,728.8 529.2,730.1 531.7,729.5 534.2,728.8 536.7,721.9 539.3,721.9 541.8,723.1 544.3,721.2 546.8,715.5 549.3,713.0 551.8,707.9 554.4,721.2 556.9,709.2 559.4,716.1 561.9,710.4 564.4,713.0 567.0,714.9 569.5,710.4 572.0,723.8 574.5,724.4 577.0,727.6 579.5,725.0 582.1,722.5 584.6,723.8 587.1,725.0 589.6,721.2 592.1,712.3 594.7,714.9 597.2,707.3 604.7,712.3 607.2,718.7 609.8,714.9 612.3,719.3 614.8,721.9 617.3,725.7 619.8,726.3 622.4,724.4 624.9,725.0 627.4,717.4 629.9,719.9 632.4,721.2 635.0,719.9 637.5,725.7 640.0,723.1 642.5,718.7 645.0,713.6 647.5,719.9 650.1,719.9 652.6,713.0 655.1,723.1 657.6,715.5 660.1,726.9 662.7,719.3 665.2,723.8 667.7,723.1 670.2,721.2 672.7,726.3 675.2,723.1 677.8,724.4 680.3,723.1 682.8,720.6 682.8,733.9 680.3,734.5 677.8,734.9 675.2,734.5 672.7,734.9 670.2,734.5 667.7,734.5 665.2,734.5 662.7,733.9 660.1,733.9 657.6,731.4 655.1,732.0 652.6,729.5 650.1,732.0 647.5,732.6 645.0,731.4 642.5,733.3 640.0,734.5 637.5,734.5 635.0,731.4 632.4,732.0 629.9,732.0 627.4,731.4 624.9,734.5 622.4,734.5 619.8,735.2 617.3,734.5 614.8,732.6 612.3,731.4 609.8,732.0 607.2,730.7 604.7,728.8 597.2,726.3 594.7,729.5 592.1,730.7 589.6,732.0 587.1,733.9 584.6,733.3 582.1,733.3 579.5,735.2 577.0,735.2 574.5,734.9 572.0,735.2 569.5,733.9 567.0,729.5 564.4,728.8 561.9,727.6 559.4,729.5 556.9,728.8 554.4,730.7 551.8,727.6 549.3,725.0 546.8,728.8 544.3,733.9 541.8,733.3 539.3,733.3 536.7,732.6 534.2,734.5 531.7,734.5 529.2,734.9 526.7,734.5 524.1,725.0 521.6,727.6 519.1,728.8 516.6,733.9 514.1,732.0 511.6,730.7 509.0,730.1 506.5,732.0 504.0,726.3 501.5,723.8 499.0,730.7 496.4,732.0 493.9,732.0 491.4,732.0 488.9,727.6 486.4,721.2 483.8,722.5 481.3,727.6 478.8,731.4 476.3,732.0 473.8,728.8 471.3,730.7 468.7,722.5 466.2,723.1 463.7,730.7 461.2,734.5 458.7,735.8 456.1,716.1 453.6,722.5 451.1,723.8 448.6,730.7 446.1,723.8 443.6,723.1 441.0,721.2 438.5,723.8 436.0,727.6 433.5,730.1 431.0,733.9 428.4,735.8 425.9,731.4 423.4,706.0 420.9,719.9 418.4,718.7 415.9,722.5 413.3,734.5 410.8,717.4 408.3,713.6 405.8,707.3 403.3,712.3 400.7,717.4 398.2,723.1 395.7,723.8 393.2,723.1 390.7,726.3 388.2,723.8 385.6,727.6 383.1,729.5 380.6,730.1 378.1,730.7 375.6,730.7 373.0,729.5 370.5,727.6 368.0,725.7 365.5,728.8 363.0,732.6 360.4,735.8 357.9,734.5 355.4,735.8 352.9,736.4 350.4,736.7 347.9,733.9 345.3,731.4 342.8,732.0 340.3,732.6 337.8,731.4 335.3,726.3 332.7,717.4 330.2,718.7 327.7,723.8 325.2,724.4 322.7,726.3 320.2,716.8 317.6,720.6 315.1,724.4 312.6,719.9 310.1,723.1 307.6,723.1 305.0,723.8 302.5,728.8 300.0,727.6 297.5,733.9 295.0,735.2 292.5,733.9 289.9,730.1 287.4,730.1 284.9,730.7 282.4,730.7 279.9,727.6 277.3,724.4 274.8,723.1 272.3,728.8 269.8,730.7 267.3,722.5 264.8,721.2 262.2,720.6 259.7,731.4 257.2,733.3 254.7,735.8 252.2,725.0 249.6,726.9 247.1,726.3 244.6,726.9 242.1,728.2 239.6,729.5 237.0,727.6 234.5,723.8 232.0,731.4 229.5,730.7 227.0,727.6 224.5,728.8 221.9,736.4 219.4,730.7 216.9,733.9 214.4,735.2 211.9,735.8 209.3,733.9 206.8,728.8 204.3,732.6 201.8,730.1 199.3,726.9 196.8,730.7 194.2,732.6 191.7,731.4 189.2,733.7 186.7,731.1 184.2,732.0 181.6,734.5 179.1,736.4 176.6,728.8 174.1,726.3 171.6,728.8 169.1,730.7 166.5,730.7 164.0,731.4 161.5,733.9 159.0,723.8 156.5,723.8 153.9,731.4 151.4,729.5 148.9,726.3 146.4,727.6 143.9,725.0 141.4,721.2 138.8,722.5 136.3,730.7 133.8,730.1 131.3,731.4 128.8,733.9 126.2,734.5 123.7,733.9 121.2,730.1 118.7,730.7 116.2,727.6 113.6,726.3 111.1,722.5 108.6,723.8 106.1,727.6 103.6,734.5 101.1,730.1 98.5,726.3 96.0,726.3 93.5,730.4 91.0,730.1 88.5,733.3 85.9,734.2 83.4,734.9 80.9,727.6 78.4,727.6 75.9,732.6 73.4,734.5 70.8,728.8 68.3,723.8 65.8,723.8" fill="none" stroke="#eadcdc" stroke-width="1.1" stroke-opacity="0.9" stroke-linejoin="round"/></g>
<line x1="65.8" x2="682.8" y1="705.70" y2="705.70" stroke="#ff0a0a" stroke-width="1.6" stroke-dasharray="5.67 2.46"/>
<polyline points="65.8,701.5 68.3,703.5 70.8,714.2 73.4,730.4 75.9,724.4 78.4,713.6 80.9,711.7 83.4,731.1 85.9,730.4 88.5,727.8 91.0,722.5 93.5,716.1 96.0,707.3 98.5,709.2 101.1,722.5 103.6,730.7 106.1,721.2 108.6,712.6 111.1,712.3 113.6,718.7 116.2,719.3 118.7,714.9 121.2,718.0 123.7,728.8 126.2,731.1 128.8,729.5 131.3,725.0 133.8,721.9 136.3,721.9 138.8,702.2 141.4,692.0 143.9,697.1 146.4,704.1 148.9,711.1 151.4,716.8 153.9,723.1 156.5,716.5 159.0,717.4 161.5,727.3 164.0,721.2 166.5,718.0 169.1,720.2 171.6,717.7 174.1,706.0 176.6,703.1 179.1,732.0 181.6,730.7 184.2,726.9 186.7,725.0 189.2,721.9 191.7,715.5 194.2,711.7 196.8,704.1 199.3,707.3 201.8,709.8 204.3,712.7 206.8,714.2 209.3,727.6 211.9,733.3 214.4,732.6 216.9,726.3 219.4,726.9 221.9,727.6 224.5,720.6 227.0,719.9 229.5,716.8 232.0,712.7 234.5,715.5 237.0,716.1 239.6,722.2 242.1,719.9 244.6,716.1 247.1,714.0 249.6,713.6 252.2,713.6 254.7,727.3 257.2,727.6 259.7,719.3 262.2,709.2 264.8,707.3 267.3,714.2 269.8,713.0 272.3,711.1 274.8,703.5 277.3,706.0 279.9,711.1 282.4,716.1 284.9,726.3 287.4,718.7 289.9,712.6 292.5,730.1 295.0,731.6 297.5,728.2 300.0,722.5 302.5,720.6 305.0,716.1 307.6,715.8 310.1,716.1 312.6,712.6 315.1,712.3 317.6,704.7 320.2,703.7 322.7,705.4 325.2,703.1 327.7,706.2 330.2,706.2 332.7,706.0 335.3,717.4 337.8,723.8 340.3,726.3 342.8,724.8 345.3,723.8 347.9,729.5 350.4,733.9 352.9,732.0 355.4,730.1 357.9,729.8 360.4,727.8 363.0,725.7 365.5,717.4 368.0,712.3 370.5,709.5 373.0,708.5 375.6,722.5 378.1,725.3 380.6,723.1 383.1,713.6 385.6,705.0 388.2,715.9 390.7,710.4 393.2,709.8 395.7,713.0 398.2,707.3 400.7,702.8 403.3,694.6 405.8,688.2 408.3,693.9 410.8,696.5 413.3,730.7 415.9,718.0 418.4,708.5 420.9,694.6 423.4,676.2 425.9,723.8 428.4,732.6 431.0,731.4 433.5,726.3 436.0,719.3 438.5,711.7 441.0,706.0 443.6,709.2 446.1,713.6 448.6,718.7 451.1,713.6 453.6,706.0 456.1,691.4 458.7,708.5 461.2,731.1 463.7,718.7 466.2,706.0 468.7,706.0 471.3,717.4 473.8,719.3 476.3,727.3 478.8,726.9 481.3,718.7 483.8,713.0 486.4,708.5 488.9,721.2 491.4,727.6 493.9,728.8 496.4,727.6 499.0,724.4 501.5,715.5 504.0,717.4 506.5,727.6 509.0,725.3 511.6,721.9 514.1,723.8 516.6,725.3 519.1,719.9 521.6,714.9 524.1,712.3 526.7,731.6 529.2,732.4 531.7,732.0 534.2,731.6 536.7,727.6 539.3,727.3 541.8,727.6 544.3,727.6 546.8,722.5 549.3,719.3 551.8,718.7 554.4,725.7 556.9,719.3 559.4,723.1 561.9,719.7 564.4,721.2 567.0,722.5 569.5,722.7 572.0,729.5 574.5,730.1 577.0,731.4 579.5,730.1 582.1,728.2 584.6,728.2 587.1,729.5 589.6,726.9 592.1,721.2 594.7,722.2 597.2,717.7 604.7,720.6 607.2,725.0 609.8,723.1 612.3,725.0 614.8,726.9 617.3,729.5 619.8,730.5 622.4,729.7 624.9,729.5 627.4,724.4 629.9,725.7 632.4,726.3 635.0,725.7 637.5,729.8 640.0,728.8 642.5,725.7 645.0,722.5 647.5,726.3 650.1,726.3 652.6,721.2 655.1,727.6 657.6,723.8 660.1,730.1 662.7,726.5 665.2,728.8 667.7,728.2 670.2,727.6 672.7,730.5 675.2,728.6 677.8,729.5 680.3,728.2 682.8,727.3" fill="none" stroke="#000" stroke-width="1.55" stroke-linejoin="round" stroke-linecap="butt"/>
</g>
<rect x="65.8" y="610.9000000000001" width="617.0" height="126.59999999999991" fill="none" stroke="#111" stroke-width="1.15"/>
<line x1="60.4" x2="65.8" y1="737.50" y2="737.50" stroke="#111" stroke-width="1.15"/>
<text class="yt" x="54.5" y="743.60">0</text>
<line x1="60.4" x2="65.8" y1="684.50" y2="684.50" stroke="#111" stroke-width="1.15"/>
<text class="yt" x="54.5" y="690.60">50</text>
<line x1="60.4" x2="65.8" y1="631.50" y2="631.50" stroke="#111" stroke-width="1.15"/>
<text class="yt" x="54.5" y="637.60">100</text>
<line x1="78.7" x2="110.9" y1="630.80" y2="630.80" stroke="#000" stroke-width="2.2"/>
<text class="lg" x="122.6" y="637.00">MASP (mean ± std)</text>
</g>
<line x1="68.32" x2="68.32" y1="737.5" y2="742.9" stroke="#111" stroke-width="1.15"/>
<text class="xt" x="68.32" y="762.5">May</text>
<line x1="146.39" x2="146.39" y1="737.5" y2="742.9" stroke="#111" stroke-width="1.15"/>
<text class="xt" x="146.39" y="762.5">Jun</text>
<line x1="221.94" x2="221.94" y1="737.5" y2="742.9" stroke="#111" stroke-width="1.15"/>
<text class="xt" x="221.94" y="762.5">Jul</text>
<line x1="300.01" x2="300.01" y1="737.5" y2="742.9" stroke="#111" stroke-width="1.15"/>
<text class="xt" x="300.01" y="762.5">Aug</text>
<line x1="378.08" x2="378.08" y1="737.5" y2="742.9" stroke="#111" stroke-width="1.15"/>
<text class="xt" x="378.08" y="762.5">Sep</text>
<line x1="453.63" x2="453.63" y1="737.5" y2="742.9" stroke="#111" stroke-width="1.15"/>
<text class="xt" x="453.63" y="762.5">Oct</text>
<line x1="531.70" x2="531.70" y1="737.5" y2="742.9" stroke="#111" stroke-width="1.15"/>
<text class="xt" x="531.70" y="762.5">Nov</text>
<line x1="607.25" x2="607.25" y1="737.5" y2="742.9" stroke="#111" stroke-width="1.15"/>
<text class="xt" x="607.25" y="762.5">Dec</text>
<text class="al" x="374.3" y="786.7">Date Time</text>
<text class="al" style="text-anchor:start;font-size:18.35px" transform="translate(14.9,506.6) rotate(-90)">PM<tspan font-size="12.85px" dy="2.8">2.5</tspan><tspan dy="-2.8"> concentrations (µg m</tspan><tspan font-size="16px" dy="-6.1" dx="2.2">-</tspan><tspan font-size="12.85px" dy="-0.1" dx="1.9">3</tspan><tspan dy="6.2">)</tspan></text>
</svg></body></html>
